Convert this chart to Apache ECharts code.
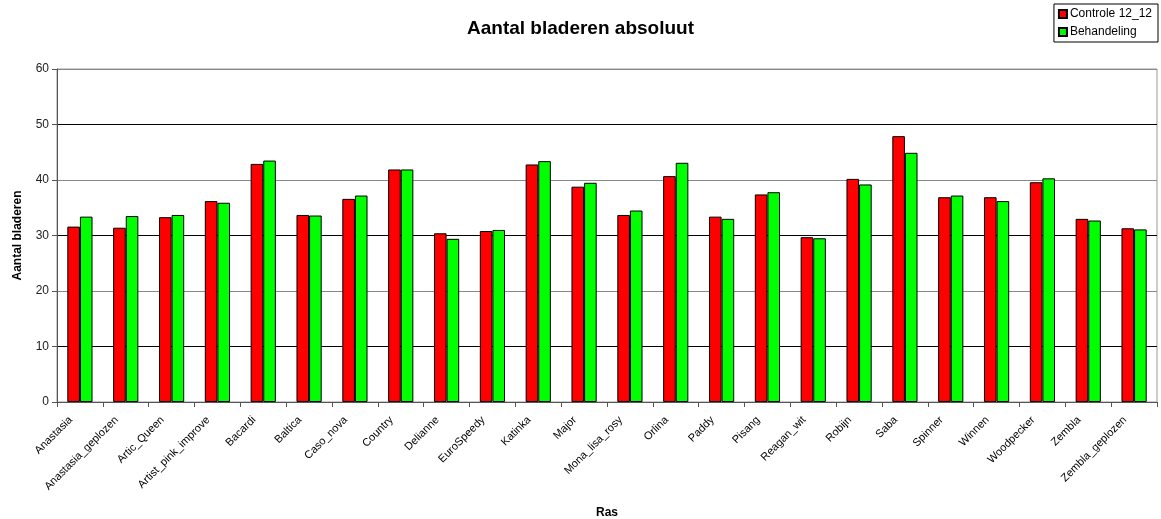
<!DOCTYPE html>
<html>
<head>
<meta charset="utf-8">
<script src="https://cdn.jsdelivr.net/npm/echarts@6/dist/echarts.min.js"></script>
<style>
  html, body { margin: 0; padding: 0; background: #fff; }
  #chart { width: 1161px; height: 519px; }
</style>
</head>
<body>
<div id="chart"></div>
<script>
// Rassen (cultivars) on the category axis
const rassen = [
  'Anastasia', 'Anastasia_geplozen', 'Artic_Queen', 'Artist_pink_improve', 'Bacardi',
  'Baltica', 'Caso_nova', 'Country', 'Delianne', 'EuroSpeedy', 'Katinka', 'Major',
  'Mona_lisa_rosy', 'Orlina', 'Paddy', 'Pisang', 'Reagan_wit', 'Robijn', 'Saba',
  'Spinner', 'Winnen', 'Woodpecker', 'Zembla', 'Zembla_geplozen'
];

// Number of leaves per cultivar
const controle = [
  31.6, 31.4, 33.3, 36.2, 42.9, 33.7, 36.6, 41.9, 30.4, 30.8, 42.8, 38.8,
  33.7, 40.7, 33.4, 37.4, 29.7, 40.2, 47.9, 36.9, 36.9, 39.6, 33.0, 31.3
];
const behandeling = [
  33.4, 33.5, 33.7, 35.9, 43.5, 33.6, 37.2, 41.9, 29.4, 31.0, 43.4, 39.5,
  34.5, 43.1, 33.0, 37.8, 29.5, 39.2, 44.9, 37.2, 36.2, 40.3, 32.7, 31.1
];

const seriesNames = ['Controle 12_12', 'Behandeling'];
const yTicks = { min: 0, max: 60, step: 10 };

const FONT = '"Liberation Sans", Arial, sans-serif';

const chart = echarts.init(document.getElementById('chart'), null, { renderer: 'canvas' });

chart.setOption({
  animation: false,
  backgroundColor: '#ffffff',
  title: {
    text: 'Aantal bladeren absoluut',
    left: 'center',
    top: 14,
    textStyle: { fontFamily: FONT, fontSize: 19, fontWeight: 'bold', color: '#000' }
  },
  legend: {
    orient: 'vertical',
    right: 3,
    top: 4,
    padding: [4, 6, 4, 4],
    itemGap: 6,
    itemWidth: 8,
    itemHeight: 8,
    borderColor: '#000',
    borderWidth: 1,
    icon: 'rect',
    textStyle: { fontFamily: FONT, fontSize: 12, color: '#000', padding: [0, 0, 0, -2] },
    data: seriesNames
  },
  grid: {
    left: 57,
    right: 4,
    top: 69,
    bottom: 117,
    outerBoundsMode: 'none',
    show: true,
    borderColor: '#999',
    borderWidth: 1
  },
  xAxis: {
    type: 'category',
    data: rassen,
    name: 'Ras',
    nameLocation: 'middle',
    nameGap: 105,
    nameTextStyle: { fontFamily: FONT, fontSize: 12, fontWeight: 'bold', color: '#000' },
    axisLine: { lineStyle: { color: '#555', width: 1 } },
    axisTick: { show: true, length: 5, lineStyle: { color: '#555' } },
    axisLabel: {
      interval: 0,
      rotate: 45,
      margin: 7,
      padding: [0, 13, 0, 0],
      fontFamily: FONT,
      fontSize: 11,
      color: '#000'
    },
    splitLine: { show: false }
  },
  yAxis: {
    type: 'value',
    min: yTicks.min,
    max: yTicks.max,
    interval: yTicks.step,
    name: 'Aantal bladeren',
    nameLocation: 'middle',
    nameRotate: 90,
    nameGap: 33,
    nameTextStyle: { fontFamily: FONT, fontSize: 12, fontWeight: 'bold', color: '#000' },
    axisLine: { show: true, lineStyle: { color: '#555', width: 1 } },
    axisTick: { show: true, length: 5, lineStyle: { color: '#555' } },
    axisLabel: { margin: 8, fontFamily: FONT, fontSize: 12, color: '#222' },
    splitLine: { show: true, lineStyle: { color: ['#888', '#000'], width: 1 } }
  },
  series: [
    {
      name: seriesNames[0],
      type: 'bar',
      data: controle,
      barGap: '0%',
      barCategoryGap: '45%',
      itemStyle: { color: '#ff0000', borderColor: '#000', borderWidth: 1 }
    },
    {
      name: seriesNames[1],
      type: 'bar',
      data: behandeling,
      barGap: '0%',
      barCategoryGap: '45%',
      itemStyle: { color: '#00ff00', borderColor: '#000', borderWidth: 1 }
    }
  ]
});
</script>
</body>
</html>
